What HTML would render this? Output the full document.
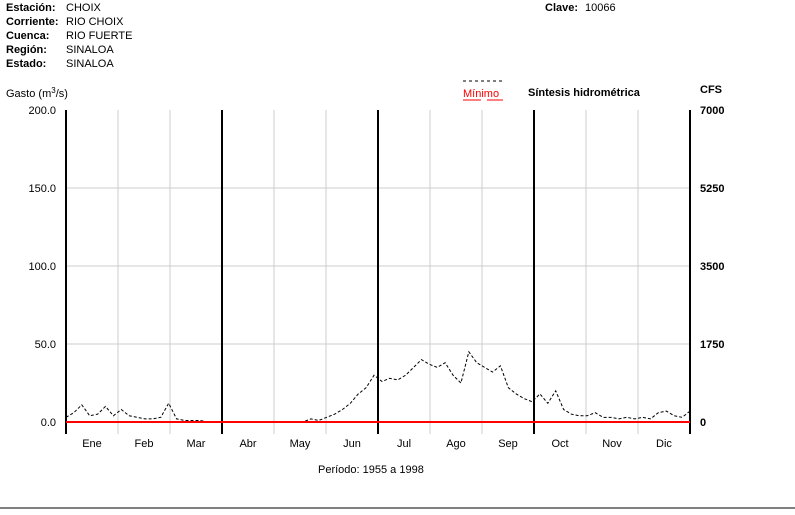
<!DOCTYPE html>
<html><head><meta charset="utf-8"><style>
body{margin:0;background:#fff;width:795px;height:510px;overflow:hidden;font-family:"Liberation Sans",Arial,sans-serif;}
svg text{font-family:"Liberation Sans",Arial,sans-serif;font-size:11px;}
</style></head><body>
<svg width="795" height="510">
<g font-size="11">
<text x="6" y="11" font-weight="bold">Estación:</text><text x="66" y="11">CHOIX</text>
<text x="6" y="25" font-weight="bold">Corriente:</text><text x="66" y="25">RIO CHOIX</text>
<text x="6" y="39" font-weight="bold">Cuenca:</text><text x="66" y="39">RIO FUERTE</text>
<text x="6" y="53" font-weight="bold">Región:</text><text x="66" y="53">SINALOA</text>
<text x="6" y="67" font-weight="bold">Estado:</text><text x="66" y="67">SINALOA</text>
<text x="545" y="11" font-weight="bold">Clave:</text><text x="585" y="11">10066</text>
</g>
<text x="6" y="97">Gasto (m<tspan dy="-4" font-size="8">3</tspan><tspan dy="4">/s)</tspan></text>
<line x1="463" y1="81" x2="502" y2="81" stroke="#000" stroke-dasharray="3,3"/>
<text x="463" y="97" fill="red">Mínimo</text>
<line x1="463" y1="100" x2="481" y2="100" stroke="red"/><line x1="487" y1="100" x2="503" y2="100" stroke="red"/>
<text x="528" y="96" font-weight="bold">Síntesis hidrométrica</text>
<text x="700" y="93" font-weight="bold">CFS</text>
<g id="grid"></g><g id="axes"></g><g id="series"></g>
<text x="318" y="473">Período:  1955 a 1998</text>
<line x1="0" y1="508" x2="795" y2="508" stroke="#000"/>
</svg>
<script>
const months=["Ene","Feb","Mar","Abr","May","Jun","Jul","Ago","Sep","Oct","Nov","Dic"];
const leftTicks=[0,50,100,150,200];
const leftTickLabels=["0.0","50.0","100.0","150.0","200.0"];
const rightTickLabels=["0","1750","3500","5250","7000"];
const meanFlow=[3,6,11,4,5,10, 4,8,4,3,2,2, 3,12,2,1,1,1, 0,0,0,0,0,0, 0,0,0,0,0,0, 0,2,1,3,5,8, 12,18,22,30,26,28, 27,30,35,40,37,35, 38,30,25,45,38,35, 32,36,22,18,15,13, 18,12,20,8,5,4, 4,6,3,3,2,3, 2,3,2,6,7,4, 3,7];
const minFlow=meanFlow.map(()=>0);
const NS="http://www.w3.org/2000/svg";
const X0=66,X1=690,Y0=422,Y1=110;
const xs=i=>X0+(X1-X0)*i/(meanFlow.length-1);
const ys=v=>Y0-(Y0-Y1)*v/200;
const mk=(t,a,p)=>{const e=document.createElementNS(NS,t);for(const k in a)e.setAttribute(k,a[k]);p.appendChild(e);return e;};
const grid=document.getElementById('grid'),axes=document.getElementById('axes'),ser=document.getElementById('series');
const mw=(X1-X0)/12;
leftTicks.forEach((v,i)=>{
 if(v>0&&v<200){const g=mk('line',{x1:X0,x2:X1,y1:ys(v),y2:ys(v),stroke:'#ccc'},grid);}
 const t=mk('text',{x:56,y:ys(v)+4,'text-anchor':'end'},axes);t.textContent=leftTickLabels[i];
 
 const r=mk('text',{x:700,y:ys(v)+4,'font-weight':'bold'},axes);r.textContent=rightTickLabels[i];
 
});
for(let m=0;m<=12;m++){
 const x=X0+mw*m;
 const thick=m%3===0;
 const l=mk('line',{x1:x,x2:x,y1:Y1,y2:Y0+12,stroke:thick?'#000':'#ccc','stroke-width':thick?2:1},thick?axes:grid);
 
 
}
months.forEach((m,i)=>{const t=mk('text',{x:X0+mw*(i+0.5),y:447,'text-anchor':'middle'},axes);t.textContent=m;
 });
const p=mk('polyline',{points:meanFlow.map((v,i)=>xs(i)+','+ys(v)).join(' '),fill:'none',stroke:'#000','stroke-dasharray':'3,2'},ser);

const q=mk('polyline',{points:minFlow.map((v,i)=>xs(i)+','+ys(v)).join(' '),fill:'none',stroke:'red','stroke-width':2},ser);

</script>
</body></html>
